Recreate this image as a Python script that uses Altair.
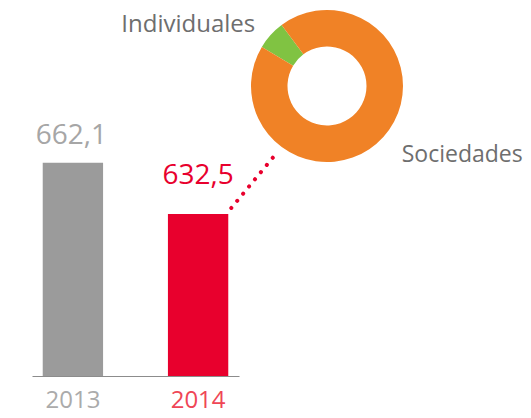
import altair as alt
import pandas as pd

# ---- data ----
years = ["2013", "2014"]
values = [662.1, 632.5]
segments = ["Individuales", "Sociedades"]
shares = [6.2, 93.8]
axis_base = 539  # value at the bar baseline (axis does not start at zero)

FONT = "Open Sans"
TWO_PI = 6.283185307
START = 5.253  # donut start angle (radians, clockwise from top)

bars_df = pd.DataFrame({"year": years, "value": values})
donut_df = pd.DataFrame({"segment": segments, "share": shares})

x_scale = alt.Scale(paddingInner=0.518, paddingOuter=0.0857)
y_scale = alt.Scale(domain=[axis_base, 751.4], nice=False, zero=False)

base = alt.Chart(bars_df)

bars = base.mark_bar().encode(
    x=alt.X("year:N", scale=x_scale,
            axis=alt.Axis(labels=False, ticks=False, title=None, grid=False,
                          domainColor="#8c8c8c", domainWidth=1.2)),
    y=alt.Y("value:Q", scale=y_scale, axis=None),
    y2=alt.datum(axis_base),
    color=alt.Color("year:N", scale=alt.Scale(domain=years, range=["#9b9b9b", "#e8002d"]),
                    legend=None),
)

label_expr = "replace(format(datum.value, '.1f'), '.', ',')"

val_2013 = base.transform_filter("datum.year == '2013'").transform_calculate(
    lab=label_expr
).mark_text(font=FONT, fontSize=28, baseline="alphabetic", dy=-19, dx=-1.5,
            color="#a6a6a6").encode(
    x=alt.X("year:N", scale=x_scale), y=alt.Y("value:Q", scale=y_scale), text="lab:N"
)

val_2014 = base.transform_filter("datum.year == '2014'").transform_calculate(
    lab=label_expr
).mark_text(font=FONT, fontSize=28, baseline="alphabetic", dy=-30,
            color="#e8002d").encode(
    x=alt.X("year:N", scale=x_scale), y=alt.Y("value:Q", scale=y_scale), text="lab:N"
)

year_labels = base.mark_text(font=FONT, fontSize=24, baseline="alphabetic").encode(
    x=alt.X("year:N", scale=x_scale),
    y=alt.value(400),
    text="year:N",
    color=alt.Color("year:N", scale=alt.Scale(domain=years, range=["#ababab", "#ef4656"]),
                    legend=None),
)

connector = base.transform_filter("datum.year == '2014'").mark_rule(
    color="#e8002d", strokeWidth=4, strokeDash=[0.1, 9.2], strokeCap="round",
    xOffset=3, yOffset=-6,
).encode(
    x=alt.X("year:N", scale=x_scale, bandPosition=1),
    y=alt.Y("value:Q", scale=y_scale),
    x2=alt.value(246.3),
    y2=alt.value(143),
)

donut = alt.Chart(donut_df).mark_arc(outerRadius=76, innerRadius=39.5).encode(
    theta=alt.Theta("share:Q", stack=True, scale=alt.Scale(range=[START, START + TWO_PI])),
    color=alt.Color("segment:N", scale=alt.Scale(domain=segments, range=["#80c342", "#f08226"]),
                    legend=None),
    order=alt.Order("segment:N"),
    x=alt.value(295),
    y=alt.value(78),
)

lab_ind = alt.Chart(donut_df).transform_filter("datum.segment == 'Individuales'").mark_text(
    font=FONT, fontSize=24, align="center", baseline="alphabetic", color="#6e6e6e"
).encode(x=alt.value(156.3), y=alt.value(23.7), text="segment:N")

lab_soc = alt.Chart(donut_df).transform_filter("datum.segment == 'Sociedades'").mark_text(
    font=FONT, fontSize=23, align="left", baseline="alphabetic", color="#6e6e6e"
).encode(x=alt.value(369.7), y=alt.value(154.3), text="segment:N")

chart = alt.layer(
    bars, connector, val_2013, val_2014, year_labels, donut, lab_ind, lab_soc
).resolve_scale(color="independent").properties(
    width=207,
    height=368,
    autosize=alt.AutoSizeParams(type="none"),
    padding={"left": 24, "top": 0, "right": 284, "bottom": 34},
).configure_view(stroke=None)

chart.save("out.html", embed_options={"renderer": "svg", "actions": False})
